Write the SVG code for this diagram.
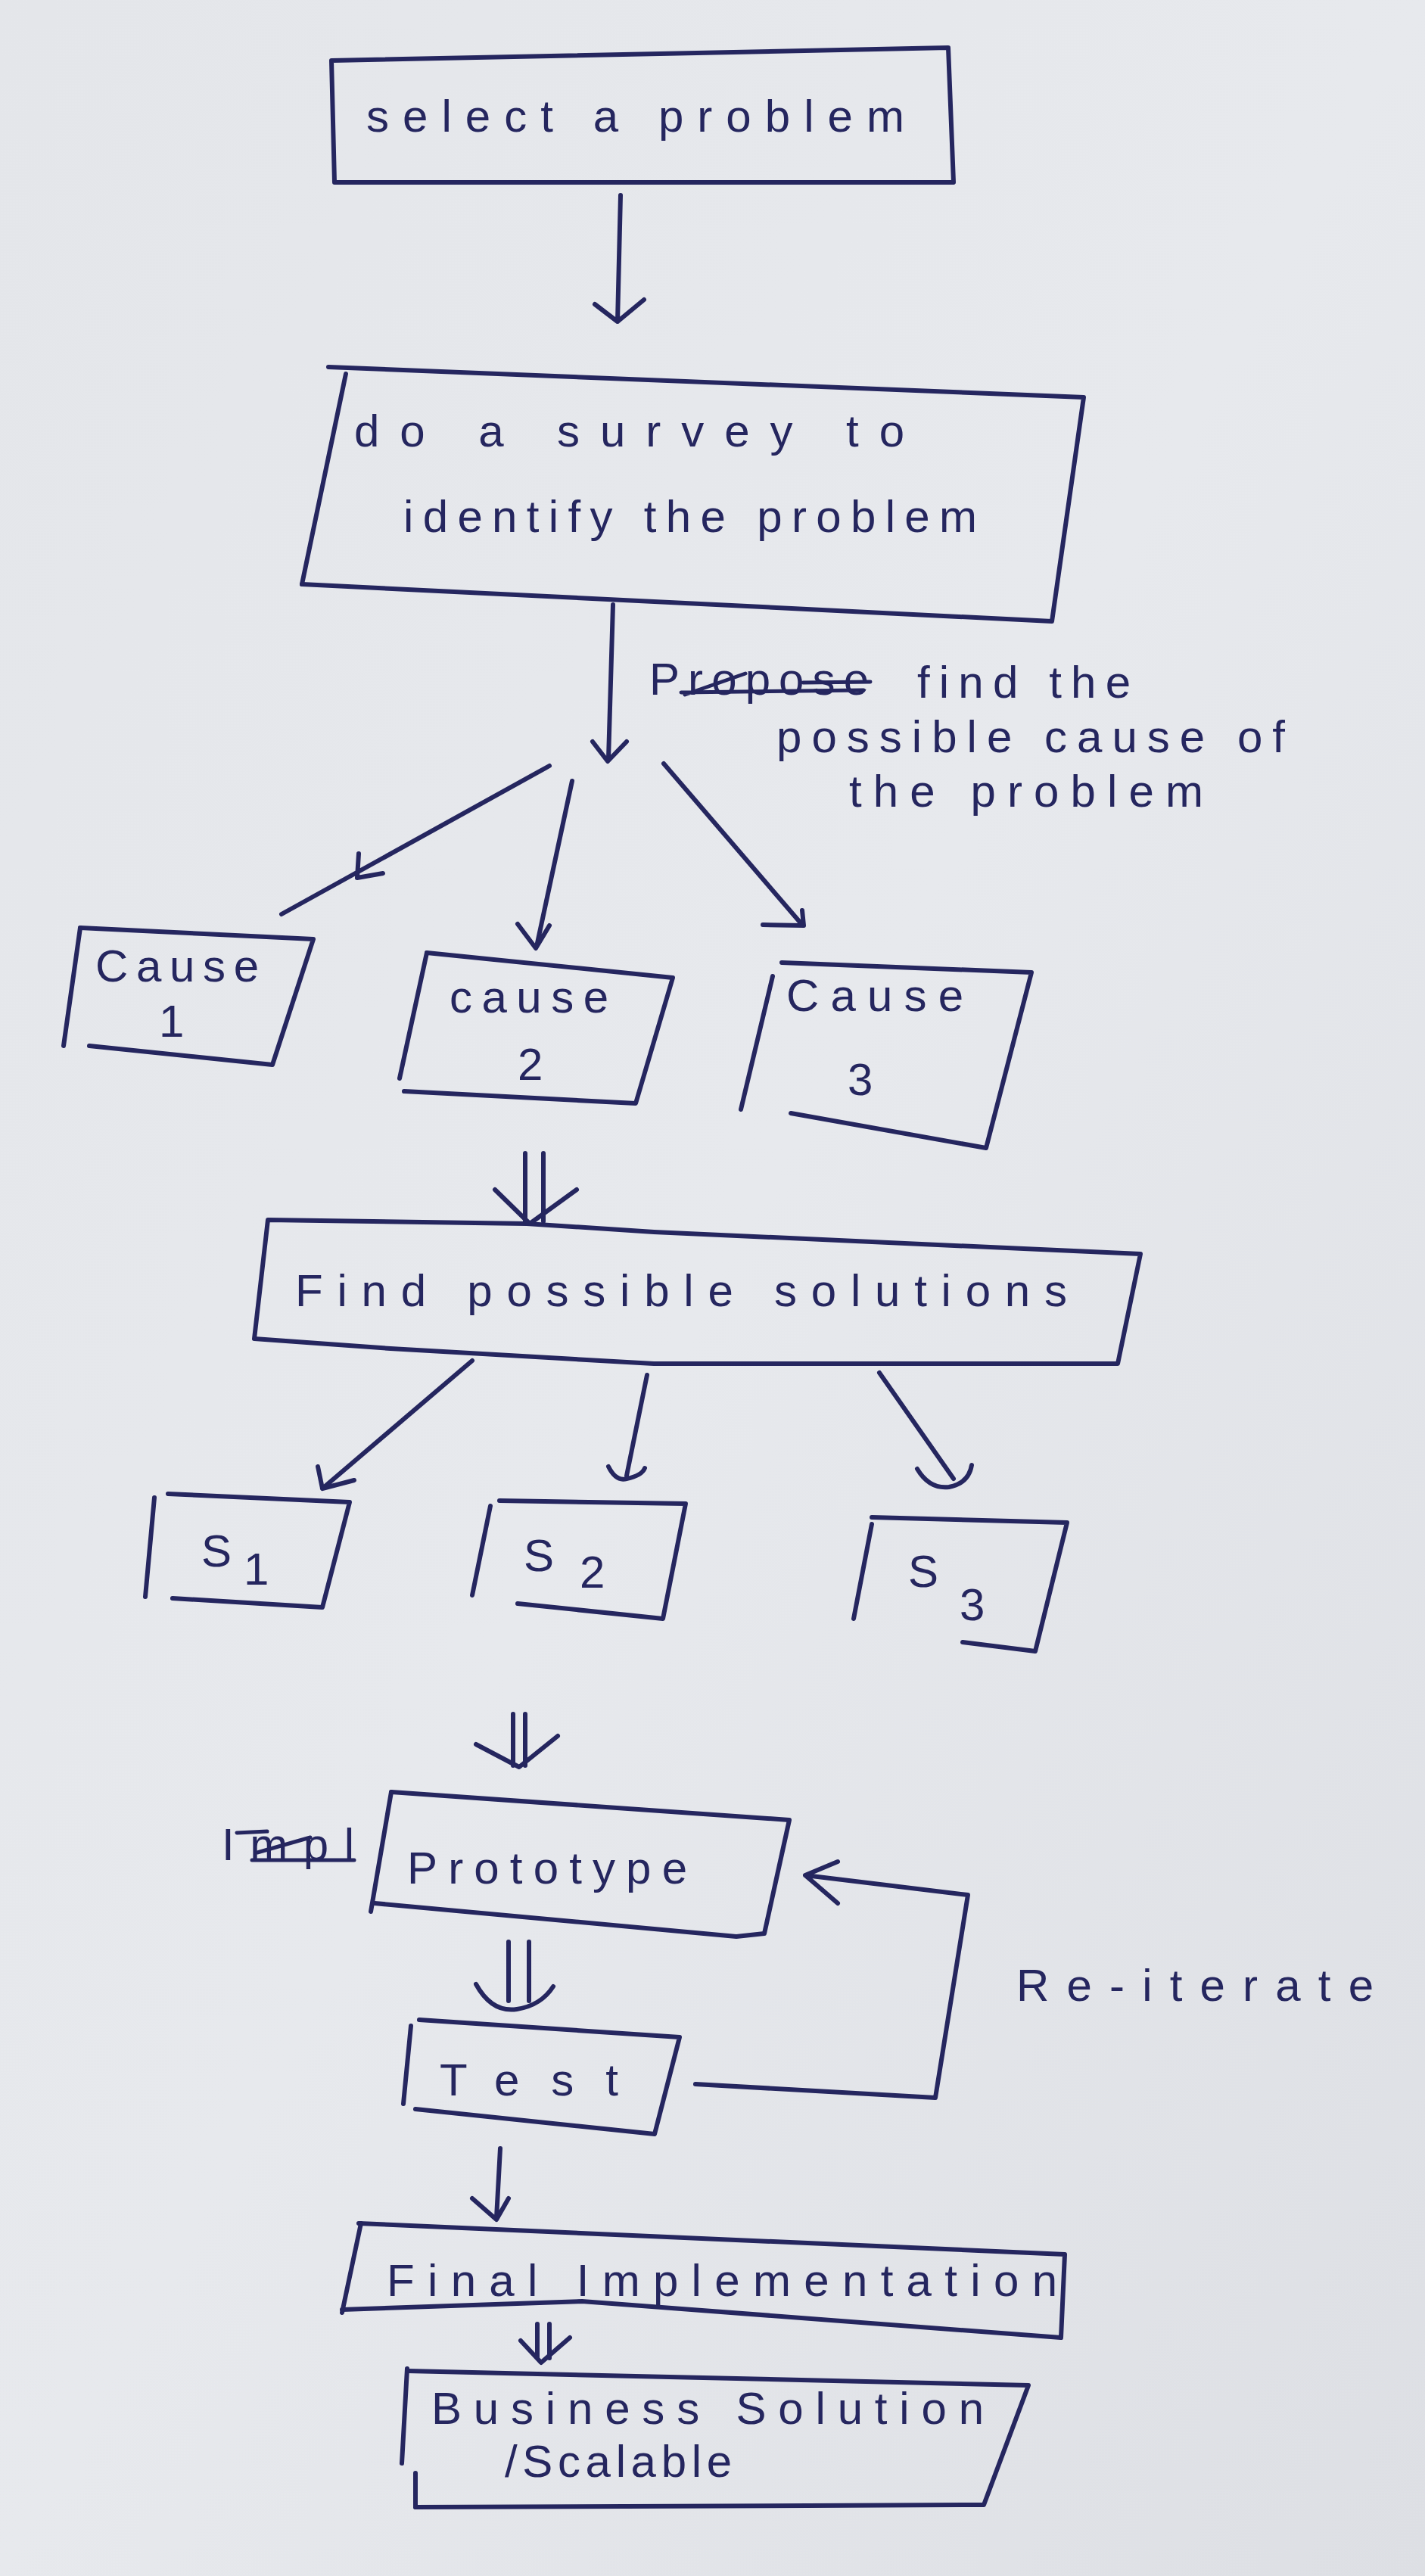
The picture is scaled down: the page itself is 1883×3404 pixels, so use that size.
<svg xmlns="http://www.w3.org/2000/svg" width="1883" height="3404" viewBox="0 0 1883 3404">
<defs>
<linearGradient id="paper" x1="0" y1="0" x2="1" y2="1">
<stop offset="0" stop-color="#e4e6ea"/>
<stop offset="0.5" stop-color="#e7e9ed"/>
<stop offset="1" stop-color="#dddfe4"/>
</linearGradient>
<style>
.ink{fill:none;stroke:#25265f;stroke-width:6;stroke-linecap:round;stroke-linejoin:round}
.thin{fill:none;stroke:#25265f;stroke-width:5;stroke-linecap:round;stroke-linejoin:round}
.t{font-family:"Liberation Sans","DejaVu Sans",sans-serif;fill:#25265f;font-size:60px}
</style>
</defs>
<rect x="0" y="0" width="1883" height="3404" fill="url(#paper)"/>

<g id="n-select">
<path class="ink" d="M438,80 L1253,63 L1260,241 L442,241 Z"/>
<text class="t" x="484" y="174" font-size="64" textLength="711" lengthAdjust="spacing">select a problem</text>
</g>

<g id="n-survey">
<path class="ink" d="M434,485 L1432,525 L1390,821 L399,772"/>
<path class="ink" d="M457,494 L399,772"/>
<text class="t" x="468" y="590" textLength="727" lengthAdjust="spacing">do a survey to</text>
<text class="t" x="533" y="703" textLength="758" lengthAdjust="spacing">identify the problem</text>
</g>

<g id="n-note">
<text class="t" x="858" y="918" font-size="56" textLength="290" lengthAdjust="spacing">Propose</text>
<path class="thin" d="M900,915 L1141,912 M1061,902 L1150,901 M905,918 L985,890"/>
<text class="t" x="1212" y="922" textLength="282" lengthAdjust="spacing">find the</text>
<text class="t" x="1026" y="994" textLength="672" lengthAdjust="spacing">possible cause of</text>
<text class="t" x="1122" y="1066" textLength="468" lengthAdjust="spacing">the problem</text>
</g>

<g id="n-cause1">
<path class="ink" d="M106,1226 L414,1241 L360,1407 L118,1382"/>
<path class="ink" d="M106,1226 L84,1382"/>
<text class="t" x="126" y="1297" textLength="216" lengthAdjust="spacing">Cause</text>
<text class="t" x="210" y="1370">1</text>
</g>

<g id="n-cause2">
<path class="ink" d="M564,1259 L889,1292 L840,1458 L534,1442"/>
<path class="ink" d="M564,1259 L528,1425"/>
<text class="t" x="594" y="1338" textLength="210" lengthAdjust="spacing">cause</text>
<text class="t" x="684" y="1427">2</text>
</g>

<g id="n-cause3">
<path class="ink" d="M1033,1272 L1363,1285 L1303,1517 L1045,1471"/>
<path class="ink" d="M1021,1290 L979,1466"/>
<text class="t" x="1039" y="1336" textLength="234" lengthAdjust="spacing">Cause</text>
<text class="t" x="1120" y="1447">3</text>
</g>

<g id="n-find">
<path class="ink" d="M354,1612 L696,1617 L864,1628 L1507,1657 L1477,1802 L864,1802 L516,1782 L336,1769 Z"/>
<text class="t" x="390" y="1726" font-size="64" textLength="1020" lengthAdjust="spacing">Find possible solutions</text>
</g>

<g id="n-s1">
<path class="ink" d="M222,1974 L462,1985 L426,2124 L228,2112"/>
<path class="ink" d="M204,1979 L192,2110"/>
<text class="t" x="266" y="2070" font-size="54">S</text>
<text class="t" x="322" y="2094" font-size="42">1</text>
</g>

<g id="n-s2">
<path class="ink" d="M660,1983 L906,1987 L876,2139 L684,2119"/>
<path class="ink" d="M648,1990 L624,2108"/>
<text class="t" x="692" y="2076" font-size="60">S</text>
<text class="t" x="766" y="2098" font-size="38">2</text>
</g>

<g id="n-s3">
<path class="ink" d="M1152,2005 L1410,2012 L1368,2182 L1272,2170"/>
<path class="ink" d="M1152,2014 L1128,2139"/>
<text class="t" x="1200" y="2097" font-size="72">S</text>
<text class="t" x="1268" y="2141" font-size="72">3</text>
</g>

<g id="n-impl">
<text class="t" x="293" y="2458" font-size="52" textLength="175" lengthAdjust="spacing">Impl</text>
<path class="thin" d="M333,2458 L468,2458 M340,2448 L410,2428 M313,2422 L353,2420"/>
</g>

<g id="n-prototype">
<path class="ink" d="M517,2368 L1043,2405 L1010,2555 L973,2559 L495,2515"/>
<path class="ink" d="M517,2368 L490,2526"/>
<text class="t" x="538" y="2489" font-size="66" textLength="370" lengthAdjust="spacing">Prototype</text>
</g>

<g id="n-test">
<path class="ink" d="M554,2669 L898,2692 L865,2820 L549,2787"/>
<path class="ink" d="M543,2677 L533,2780"/>
<text class="t" x="581" y="2769" font-size="84" textLength="236" lengthAdjust="spacing">Test</text>
</g>

<g id="n-reiterate">
<text class="t" x="1343" y="2644" textLength="472" lengthAdjust="spacing">Re-iterate</text>
</g>

<g id="n-final">
<path class="ink" d="M474,2938 L1407,2979 L1402,3089 L769,3041 L452,3052"/>
<path class="ink" d="M477,2938 L452,3056"/>
<text class="t" x="511" y="3034" font-size="66" textLength="886" lengthAdjust="spacing">Final Implementation</text>
</g>

<g id="n-business">
<path class="ink" d="M538,3133 L1359,3152 L1300,3310 L549,3313"/>
<path class="ink" d="M538,3130 L531,3255 M549,3268 L549,3313"/>
<text class="t" x="570" y="3203" textLength="730" lengthAdjust="spacing">Business Solution</text>
<text class="t" x="667" y="3273" font-size="56" textLength="300" lengthAdjust="spacing">/Scalable</text>
</g>

<g id="connectors">
<path class="ink" d="M820,258 L816,425 M786,402 L816,425 L851,396"/>
<path class="ink" d="M810,799 L804,1003 M783,980 L803,1006 L828,980"/>
<path class="ink" d="M726,1012 L372,1208 M474,1128 L472,1160 L506,1154"/>
<path class="ink" d="M756,1032 L709,1251 M684,1221 L708,1253 L726,1223"/>
<path class="ink" d="M877,1009 L1060,1222 M1060,1203 L1062,1223 L1008,1222"/>
<path class="ink" d="M694,1524 L694,1614 M718,1524 L718,1614 M654,1572 L700,1617 L762,1572"/>
<path class="ink" d="M624,1798 L426,1967 M420,1938 L426,1967 L468,1956"/>
<path class="ink" d="M855,1817 L828,1950 M804,1938 Q814,1958 828,1954 Q848,1950 852,1940"/>
<path class="ink" d="M1162,1814 L1260,1954 M1212,1941 Q1228,1968 1254,1965 Q1280,1960 1284,1936"/>
<path class="ink" d="M678,2265 L678,2333 M694,2265 L694,2333 M629,2305 L686,2335 L737,2294"/>
<path class="ink" d="M672,2566 L672,2644 M699,2566 L699,2644 M629,2622 Q650,2660 683,2655 Q715,2650 731,2625"/>
<path class="ink" d="M919,2754 L1236,2772 L1279,2504 L1064,2478 M1107,2460 L1064,2478 L1107,2515"/>
<path class="ink" d="M661,2839 L656,2931 M624,2905 L656,2933 L672,2905"/>
<path class="ink" d="M710,3071 L710,3116 M726,3071 L726,3116 M688,3093 L715,3122 L753,3089"/>
</g>
</svg>
